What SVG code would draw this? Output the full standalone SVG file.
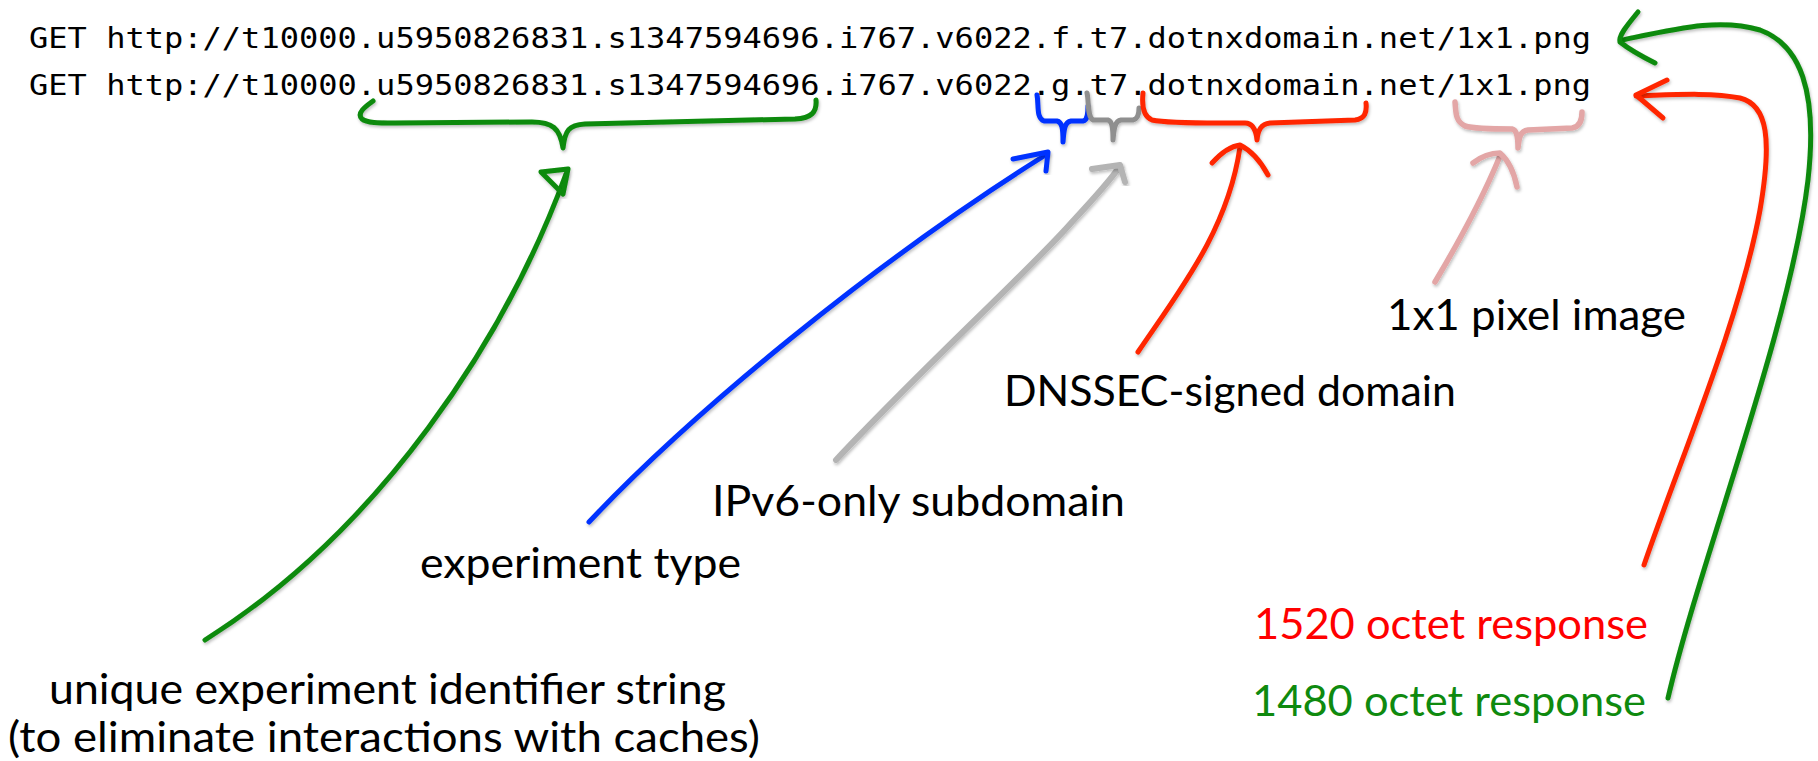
<svg xmlns="http://www.w3.org/2000/svg" width="1818" height="761" viewBox="0 0 1818 761">
<defs>
<filter id="sh" x="-20%" y="-20%" width="140%" height="140%">
<feDropShadow dx="1" dy="2" stdDeviation="1.5" flood-color="#000" flood-opacity="0.25"/>
</filter>
<style>
.url{font-family:"DejaVu Sans Mono","Liberation Mono",monospace;font-size:28.5px;fill:#000}
.lbl{font-family:Lato,"Open Sans",sans-serif;font-size:43px;fill:#000}
.s{fill:none;stroke-linecap:round;stroke-linejoin:round;filter:url(#sh)}
.g{stroke:#0b8a0b;stroke-width:5}
.b{stroke:#0433ff;stroke-width:5}
.gr{stroke:#b4b4b4;stroke-width:6}
.grb{stroke:#8f8f8f;stroke-width:5}
.r{stroke:#ff2600;stroke-width:5}
.p{stroke:#e3a6a6;stroke-width:5.5}
</style>
</defs>
<rect width="1818" height="761" fill="#fff"/>
<g id="url">
<text class="url" x="29" y="48" textLength="1562" lengthAdjust="spacingAndGlyphs">GET http://t10000.u5950826831.s1347594696.i767.v6022.f.t7.dotnxdomain.net/1x1.png</text>
<text class="url" x="29" y="95" textLength="1562" lengthAdjust="spacingAndGlyphs">GET http://t10000.u5950826831.s1347594696.i767.v6022.g.t7.dotnxdomain.net/1x1.png</text>
</g>
<g id="label-unique">
<text class="lbl" x="49" y="704" textLength="677" lengthAdjust="spacingAndGlyphs">unique experiment identifier string</text>
<text class="lbl" x="8" y="752" textLength="752" lengthAdjust="spacingAndGlyphs">(to eliminate interactions with caches)</text>
</g>
<g id="label-type"><text class="lbl" x="420" y="578" textLength="321" lengthAdjust="spacingAndGlyphs">experiment type</text></g>
<g id="label-ipv6"><text class="lbl" x="712" y="516" textLength="413" lengthAdjust="spacingAndGlyphs">IPv6-only subdomain</text></g>
<g id="label-dnssec"><text class="lbl" x="1004" y="406" textLength="452" lengthAdjust="spacingAndGlyphs">DNSSEC-signed domain</text></g>
<g id="label-pixel"><text class="lbl" x="1387" y="330" textLength="299" lengthAdjust="spacingAndGlyphs">1x1 pixel image</text></g>
<g id="label-1520"><text class="lbl" x="1254" y="639" textLength="394" lengthAdjust="spacingAndGlyphs" style="fill:#ff0000">1520 octet response</text></g>
<g id="label-1480"><text class="lbl" x="1252" y="716" textLength="394" lengthAdjust="spacingAndGlyphs" style="fill:#0f8a0f">1480 octet response</text></g>
<g id="connectors">
<path class="s g" d="M373,101 C366,106 356,113 362,119 C367,123 378,123 395,123 L532,122 C552,122 560,128 563,148 C565,130 569,125 585,124 L795,119 C812,118 817,112 816,100"/>
<path class="s b" d="M1037,95 C1039,105 1036,118 1044,121 L1057,121 C1062,122 1063,128 1063,142 C1064,128 1065,122 1071,121 L1083,121 C1088,120 1088,112 1088,106"/>
<path class="s grb" d="M1087,93 C1089,100 1087,117 1093,120 L1108,120 C1112,121 1113,128 1113,140 C1114,128 1115,121 1121,120 L1133,120 C1138,119 1139,114 1139,108"/>
<path class="s r" d="M1143,93 C1142,103 1142,116 1152,120 C1170,124 1220,123 1245,123 C1253,123 1256,130 1257,140 C1258,130 1261,124 1270,123 L1355,120 C1365,119 1367,112 1366,103"/>
<path class="s p" d="M1455,102 C1456,112 1455,121 1465,126 C1475,129 1500,129 1512,129 C1517,130 1518,138 1518,148 C1519,138 1520,131 1528,130 L1572,128 C1580,127 1582,120 1582,112"/>
<path class="s g" d="M205,640 C380,530 505,340 566,174"/>
<path class="s g" d="M568,169 L541,172 L563,194 Z"/>
<path class="s b" d="M589,522 C690,415 870,265 1047,154"/>
<path class="s b" d="M1013,159 L1048,152 L1046,171"/>
<path class="s gr" d="M836,460 C930,360 1030,270 1072,222 C1100,192 1112,178 1120,166"/>
<path class="s gr" d="M1092,169 L1120,165 L1125,182"/>
<path class="s r" d="M1138,352 C1180,290 1228,230 1240,147"/>
<path class="s r" d="M1212,163 C1222,152 1232,146 1240,145 C1250,150 1260,160 1268,175"/>
<path class="s p" d="M1435,282 C1460,240 1482,200 1500,156"/>
<path class="s p" d="M1473,163 C1482,156 1492,153 1500,153 C1508,160 1514,172 1517,187"/>
<path class="s r" d="M1644,565 C1680,460 1740,320 1760,210 C1772,140 1768,105 1740,98 C1710,92 1670,95 1636,96"/>
<path class="s r" d="M1667,80 L1636,95 L1663,118"/>
<path class="s g" d="M1668,698 C1700,560 1790,330 1808,180 C1818,90 1800,45 1760,30 C1720,18 1680,28 1622,40"/>
<path class="s g" d="M1638,12 C1630,22 1618,35 1620,42 C1630,50 1645,58 1655,63"/>
</g>
</svg>
